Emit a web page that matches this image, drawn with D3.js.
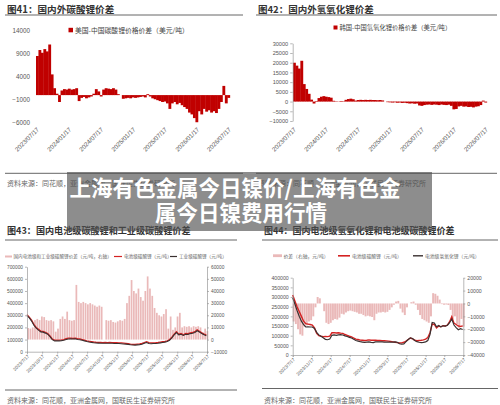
<!DOCTYPE html>
<html><head><meta charset="utf-8">
<script src="https://cdn.jsdelivr.net/npm/d3@7/dist/d3.min.js"></script>
<style>
html,body{margin:0;padding:0;background:#fff;}
svg{display:block;}
</style></head><body>
<svg id="c" width="500" height="405"></svg>
<script>
// ---------------- DATA ----------------
const startDate = "2023-07-17";   // first observation, bi-weekly series
const stepDays = 14;

// Fig 41: US - China lithium carbonate price spread (USD/t)
const usCnCarbonateSpread = [8500,9800,9200,10000,9500,11000,4500,1500,300,-1500,1000,1300,1200,1400,1200,1300,1500,-1300,-600,-400,-700,-500,-300,300,1300,800,-300,1200,1500,1400,1300,1500,1200,200,0,-800,-700,-600,-700,-500,-600,-500,-400,-300,-500,200,-300,-700,-900,-1100,-1300,-1500,-1400,-1800,-3000,-1800,-1500,-2000,-1700,-2200,-2600,-3000,-3800,-4200,-5000,-5900,-3500,-4200,-3000,-3600,-3300,-3800,-3500,-3900,-3000,-1500,2000,-1800,-600];

// Fig 42: Korea - China lithium hydroxide price spread (USD/t)
const krCnHydroxideSpread = [20000,18500,17000,21000,9000,6500,4000,1000,-1000,300,1800,2500,2800,2500,2300,2000,400,200,100,300,200,900,1300,1500,1200,500,800,900,800,900,800,900,800,800,700,800,600,0,-300,-400,-500,-400,-600,-500,-700,-600,-800,-1000,-900,-1100,-1000,-2000,-2200,-1800,-1600,-1500,-1700,-1500,-1600,-1800,-1500,-1700,-1800,-1600,-2200,-4000,-3800,-2500,-2200,-2600,-2500,-2800,-2700,-3000,-2600,-2400,-1800,500,-500];

// Fig 43: battery-grade vs industrial-grade lithium carbonate (CNY/t)
const batteryCarbonate43 = [305000,285000,260000,225000,200000,185000,170000,168000,160000,150000,130000,105000,95000,96000,95000,97000,100000,108000,112000,112000,110000,112000,108000,105000,100000,95000,90000,86000,83000,80000,78000,77000,76000,75000,76000,75000,76000,75000,74000,74000,73000,72000,70000,68000,66000,63000,61000,60000,62000,64000,68000,75000,82000,74000,72000,73000,74000,76000,79000,82000,85000,90000,100000,120000,145000,165000,145000,150000,140000,150000,148000,155000,158000,165000,180000,168000,155000,145000,138000];
const industrialCarbonate43 = [298000,279000,252000,218000,194000,178000,163000,161000,153000,144000,124000,99000,89000,90000,89000,91000,94000,101000,105000,106000,104000,106000,101000,99000,94000,89000,84000,80000,77000,74000,72000,71000,70000,69000,70000,69000,70000,69000,68000,68000,67000,66000,64000,62000,60000,57000,55000,54000,56000,58000,62000,69000,76000,68000,66000,67000,68000,70000,73000,76000,79000,84000,94000,114000,139000,158000,139000,144000,134000,144000,142000,149000,152000,159000,173000,162000,149000,139000,132000];
const gradeSpread43 = [9500,9000,10000,16000,17000,16000,19000,18500,16000,15500,16000,15000,6500,9000,17000,19000,17000,23000,16000,15500,16000,45000,31000,30000,31000,30000,29000,30000,29000,28000,27000,28000,27000,0,16000,15500,16000,14500,14000,15000,16000,15500,17000,30000,36000,49000,40000,38000,42000,35000,32000,40000,52000,42000,36000,26000,22000,20000,19000,21000,25000,9000,19000,8000,10000,19000,22000,10000,11000,10500,11000,10000,11000,10500,11000,10000,6000,9000,7000];

// Fig 44: battery-grade lithium hydroxide vs battery-grade lithium carbonate (CNY/t)
const batteryCarbonate44 = [310000,280000,250000,225000,200000,175000,162000,160000,158000,155000,140000,112000,100000,97000,95000,96000,95000,98000,115000,116000,114000,115000,113000,112000,106000,102000,97000,94000,88000,82000,80000,77000,76000,75000,76000,78000,76000,77000,76000,75000,75000,74000,74000,73000,72000,70000,68000,66000,64000,62000,63000,66000,72000,80000,88000,84000,76000,74000,75000,76000,78000,82000,90000,115000,160000,158000,140000,150000,146000,152000,150000,155000,172000,198000,165000,158000,150000,148000,150000];
const batteryHydroxide44 = [296000,264000,230000,201000,175000,157000,145000,146000,145000,145000,137000,117000,104000,97000,89000,81000,79000,83000,102000,104000,101500,104000,105000,103500,99000,96000,91500,88000,81500,75000,72000,69000,67000,65000,66500,68000,65500,64000,68000,68000,68000,67500,67000,66500,67000,67000,67000,67500,66000,58000,56000,57000,69000,80000,89000,85500,75000,69000,66000,64000,65000,68000,75000,105000,168000,165500,146000,153000,145500,151000,149000,154000,167000,186000,155000,142000,131000,136000,132000];
const hydroxideSpread44 = [-14000,-16000,-20000,-24000,-25000,-18000,-17000,-14000,-13000,-10000,-3000,5000,4000,0,-6000,-15000,-16000,-15000,-13000,-12000,-12500,-11000,-8000,-8500,-7000,-6000,-5500,-6000,-6500,-7000,-8000,-8000,-9000,-10000,-9500,-10000,-10500,-13000,-8000,-7000,-7000,-6500,-7000,-6500,-5000,-3000,-1000,1500,2000,-4000,-7000,-9000,-3000,0,1000,1500,-1000,-5000,-9000,-12000,-13000,-14000,-15000,-10000,8000,7500,6000,3000,-500,-1000,-800,-1200,-5000,-12000,-10000,-16000,-19000,-12000,-18000];

// tick labels
const xTicks41 = ["2023/07/17","2024/01/17","2024/07/17","2025/01/17","2025/07/17","2026/01/17","2026/07/17"];
const xTicks42 = ["2023/07/17","2024/01/17","2024/07/17","2025/01/17","2025/07/17","2026/01/17","2026/07/17"];
const xTicks43 = ["2023/7/17","2023/10/17","2024/1/17","2024/4/17","2024/7/17","2024/10/17","2025/1/17","2025/4/17","2025/7/17","2025/10/17","2026/1/17","2026/4/17","2026/7/17"];
const xTicks44 = ["2023/7/17","2023/11/17","2024/3/17","2024/7/17","2024/11/17","2025/3/17","2025/7/17","2025/11/17","2026/3/17","2026/7/17"];
const yTicks41 = [14000,9000,4000,-1000,-6000];
const yTicks42 = [30000,25000,20000,15000,10000,5000,0,-5000,-10000];
const yTicks43L = [700000,600000,500000,400000,300000,200000,100000,0];
const yTicks43R = [60000,50000,40000,30000,20000,10000,0,-10000];
const yTicks44L = [400000,350000,300000,250000,200000,150000,100000,50000,0];
const yTicks44R = [20000,10000,0,-10000,-20000,-30000,-40000];

// text
const titles = ["图41：国内外碳酸锂价差","图42：国内外氢氧化锂价差","图43：国内电池级碳酸锂和工业级碳酸锂价差","图44：国内电池级氢氧化锂和电池级碳酸锂价差"];
const sourceText = "资料来源：同花顺，亚洲金属网，国联民生证券研究所";
const legend41 = "美国-中国碳酸锂价格价差（美元/吨）";
const legend42 = "韩国-中国氢氧化锂价格价差（美元/吨）";
const legend43 = ["国内电池级和工业级碳酸锂价差（元/吨，右轴）","电池级碳酸锂（元/吨）","工业级碳酸锂（元/吨）"];
const legend44 = ["价差（右轴，元/吨）","电池级碳酸锂（元/吨）","电池级氢氧化锂（元/吨）"];
const overlayLines = ["上海有色金属今日镍价/上海有色金","属今日镍费用行情"];

// ---------------- DRAW ----------------
const CJK = '"Noto Sans CJK SC","Noto Sans",sans-serif';
const NUM = '"Liberation Sans",Arial,sans-serif';
const svg = d3.select("#c");
const pDay = d3.timeParse("%Y-%m-%d");
const pTick = d3.timeParse("%Y/%m/%d");
const t0 = pDay(startDate);
const dates = d3.range(usCnCarbonateSpread.length).map(i => d3.timeDay.offset(t0, i * stepDays));
const tStart = pTick("2023/7/17"), tEnd = pTick("2026/7/17");
const RED = "#c00000", PINK = "#eab9b9", LRED = "#d42222", DARK = "#3a3030";
const plain = d3.format("d");

function frame(x1, x2, title, titleY, ruleY, botY, srcY, fs) {
  svg.append("text").attr("x", x1 + 2).attr("y", titleY).attr("font-family", CJK)
    .attr("font-weight", 700).attr("font-size", fs).attr("fill", "#333").text(title);
  svg.append("line").attr("x1", x1).attr("x2", x2).attr("y1", ruleY).attr("y2", ruleY)
    .attr("stroke", "#666").attr("stroke-width", 1);
  svg.append("line").attr("x1", x1).attr("x2", x2).attr("y1", botY).attr("y2", botY)
    .attr("stroke", "#666").attr("stroke-width", 1);
  svg.append("text").attr("x", x1 + 2).attr("y", srcY).attr("font-family", CJK)
    .attr("font-size", 7).attr("fill", "#666").text(sourceText);
}

function styleAxis(g, fs, showLine) {
  g.attr("font-family", null).attr("font-size", null);
  g.selectAll("path.domain").attr("stroke", showLine ? "#999" : "none").attr("stroke-width", 0.7);
  g.selectAll(".tick line").attr("stroke", showLine ? "#999" : "none").attr("stroke-width", 0.7);
  g.selectAll("text").attr("font-family", NUM).attr("font-size", fs).attr("fill", "#555");
}

function rotXAxis(x, yPos, labels, fs, showLine, dx, dy) {
  const g = svg.append("g").attr("transform", `translate(0,${yPos})`)
    .call(d3.axisBottom(x).tickValues(labels.map(pTick)).tickFormat((d, i) => labels[i]).tickSize(showLine ? 2 : 0));
  styleAxis(g, fs, showLine);
  g.selectAll("text").attr("x", 0).attr("y", 0).attr("dy", 0).attr("text-anchor", "end")
    .attr("transform", `translate(${dx},${dy}) rotate(-45)`);
  return g;
}

// ---- Fig 41 ----
frame(5, 243, titles[0], 13.3, 15, 173.3, 185.5, 9.6);
{
  const x = d3.scaleTime().domain([tStart, tEnd]).range([36, 228]);
  const y = d3.scaleLinear().domain([-6000, 14000]).range([122.7, 30.7]);
  const bw = x(dates[1]) - x(dates[0]) + 0.4;
  svg.append("g").selectAll("rect").data(usCnCarbonateSpread).join("rect")
    .attr("x", (d, i) => x(dates[i])).attr("width", bw)
    .attr("y", d => y(Math.max(0, d))).attr("height", d => Math.abs(y(d) - y(0)))
    .attr("fill", RED);
  const ga = svg.append("g").attr("transform", "translate(31,0)")
    .call(d3.axisLeft(y).tickValues(yTicks41).tickFormat(plain).tickSize(0).tickPadding(1));
  styleAxis(ga, 6.3, false);
  rotXAxis(x, 124, xTicks41, 6.2, false, 3, 6);
  svg.append("rect").attr("x", 68.5).attr("y", 27.8).attr("width", 4.5).attr("height", 4.5).attr("fill", RED);
  svg.append("text").attr("x", 75).attr("y", 32.6).attr("font-family", CJK).attr("font-size", 6.8).attr("fill", "#444").text(legend41);
}

// ---- Fig 42 ----
frame(256, 497, titles[1], 13.3, 15, 173.3, 185.5, 9.5);
{
  const x = d3.scaleTime().domain([tStart, tEnd]).range([293, 485]);
  const y = d3.scaleLinear().domain([-10000, 30000]).range([121, 43.3]);
  const bw = x(dates[1]) - x(dates[0]) + 0.4;
  svg.append("g").selectAll("rect").data(krCnHydroxideSpread).join("rect")
    .attr("x", (d, i) => x(dates[i])).attr("width", bw)
    .attr("y", d => y(Math.max(0, d))).attr("height", d => Math.abs(y(d) - y(0)))
    .attr("fill", RED);
  const ga = svg.append("g").attr("transform", "translate(292.7,0)")
    .call(d3.axisLeft(y).tickValues(yTicks42).tickFormat(plain).tickSize(2.5).tickPadding(2).tickSizeOuter(0));
  styleAxis(ga, 5.6, true);
  rotXAxis(x, 124, xTicks42, 6.2, false, 3, 6);
  svg.append("rect").attr("x", 333.5).attr("y", 25.5).attr("width", 4).attr("height", 4).attr("fill", RED);
  svg.append("text").attr("x", 339.5).attr("y", 29.8).attr("font-family", CJK).attr("font-size", 6.3).attr("fill", "#444").text(legend42);
}

// ---- Fig 43 ----
frame(5, 237, titles[2], 233.8, 240, 390, 403, 9.1);
{
  const x = d3.scaleTime().domain([tStart, tEnd]).range([27, 207]);
  const yL = d3.scaleLinear().domain([0, 700000]).range([351.7, 266.7]);
  const yR = d3.scaleLinear().domain([-10000, 60000]).range([351.7, 266.7]);
  const step = x(dates[1]) - x(dates[0]);
  svg.append("g").selectAll("rect").data(gradeSpread43).join("rect")
    .attr("x", (d, i) => x(dates[i]) + step * 0.1).attr("width", step * 0.75)
    .attr("y", d => yR(Math.max(0, d))).attr("height", d => Math.abs(yR(d) - yR(0)))
    .attr("fill", PINK);
  const line = arr => d3.line().x((d, i) => x(dates[i])).y(d => yL(d))(arr);
  svg.append("path").attr("d", line(batteryCarbonate43)).attr("fill", "none").attr("stroke", LRED).attr("stroke-width", 1.3);
  svg.append("path").attr("d", line(industrialCarbonate43)).attr("fill", "none").attr("stroke", DARK).attr("stroke-width", 1.1);
  const gl = svg.append("g").attr("transform", "translate(27,0)")
    .call(d3.axisLeft(yL).tickValues(yTicks43L).tickFormat(plain).tickSize(2).tickPadding(2).tickSizeOuter(0));
  styleAxis(gl, 4.8, true);
  const gr = svg.append("g").attr("transform", "translate(207,0)")
    .call(d3.axisRight(yR).tickValues(yTicks43R).tickFormat(plain).tickSize(2).tickPadding(2).tickSizeOuter(0));
  styleAxis(gr, 4.8, true);
  rotXAxis(x, 351.7, xTicks43, 4.6, true, 2, 5);
  const ly = 258;
  svg.append("line").attr("x1", 5).attr("x2", 12).attr("y1", ly - 1.5).attr("y2", ly - 1.5).attr("stroke", PINK).attr("stroke-width", 2);
  svg.append("text").attr("x", 13.5).attr("y", ly).attr("font-family", CJK).attr("font-size", 4.6).attr("fill", "#666").text(legend43[0]);
  svg.append("line").attr("x1", 114).attr("x2", 122).attr("y1", ly - 1.5).attr("y2", ly - 1.5).attr("stroke", LRED).attr("stroke-width", 1.2);
  svg.append("text").attr("x", 124).attr("y", ly).attr("font-family", CJK).attr("font-size", 4.6).attr("fill", "#666").text(legend43[1]);
  svg.append("line").attr("x1", 170).attr("x2", 177).attr("y1", ly - 1.5).attr("y2", ly - 1.5).attr("stroke", DARK).attr("stroke-width", 1.2);
  svg.append("text").attr("x", 179).attr("y", ly).attr("font-family", CJK).attr("font-size", 4.6).attr("fill", "#666").text(legend43[2]);
}

// ---- Fig 44 ----
frame(262, 498, titles[3], 233.8, 240, 388.5, 403, 9);
{
  const x = d3.scaleTime().domain([tStart, tEnd]).range([292.7, 463.3]);
  const yL = d3.scaleLinear().domain([0, 400000]).range([355, 277.7]);
  const yR = d3.scaleLinear().domain([-40000, 20000]).range([355, 277.7]);
  const step = x(dates[1]) - x(dates[0]);
  svg.append("g").selectAll("rect").data(hydroxideSpread44).join("rect")
    .attr("x", (d, i) => x(dates[i])).attr("width", step * 0.9)
    .attr("y", d => yR(Math.max(0, d))).attr("height", d => Math.abs(yR(d) - yR(0)))
    .attr("fill", PINK);
  const line = arr => d3.line().x((d, i) => x(dates[i])).y(d => yL(d))(arr);
  svg.append("path").attr("d", line(batteryCarbonate44)).attr("fill", "none").attr("stroke", LRED).attr("stroke-width", 1.4);
  svg.append("path").attr("d", line(batteryHydroxide44)).attr("fill", "none").attr("stroke", DARK).attr("stroke-width", 1.2);
  const gl = svg.append("g").attr("transform", "translate(292.7,0)")
    .call(d3.axisLeft(yL).tickValues(yTicks44L).tickFormat(plain).tickSize(2).tickPadding(2).tickSizeOuter(0));
  styleAxis(gl, 5.2, true);
  const gr = svg.append("g").attr("transform", "translate(463.3,0)")
    .call(d3.axisRight(yR).tickValues(yTicks44R).tickFormat(plain).tickSize(2).tickPadding(2).tickSizeOuter(0));
  styleAxis(gr, 5.2, true);
  rotXAxis(x, 355, xTicks44, 4.6, true, 2, 5);
  const ly = 257.8;
  svg.append("rect").attr("x", 273).attr("y", ly - 3.5).attr("width", 9).attr("height", 2.8).attr("fill", PINK);
  svg.append("text").attr("x", 283.5).attr("y", ly).attr("font-family", CJK).attr("font-size", 4.8).attr("fill", "#666").text(legend44[0]);
  svg.append("line").attr("x1", 338).attr("x2", 350).attr("y1", ly - 2).attr("y2", ly - 2).attr("stroke", LRED).attr("stroke-width", 1.6);
  svg.append("text").attr("x", 352).attr("y", ly).attr("font-family", CJK).attr("font-size", 4.8).attr("fill", "#666").text(legend44[1]);
  svg.append("line").attr("x1", 413).attr("x2", 423).attr("y1", ly - 2).attr("y2", ly - 2).attr("stroke", DARK).attr("stroke-width", 1.4);
  svg.append("text").attr("x", 425).attr("y", ly).attr("font-family", CJK).attr("font-size", 4.8).attr("fill", "#666").text(legend44[2]);
}

// ---- overlay banner ----
svg.append("rect").attr("x", 67).attr("y", 172).attr("width", 365).attr("height", 59)
  .attr("fill", "rgba(80,80,80,0.65)");
svg.append("text").attr("x", 235).attr("y", 196).attr("text-anchor", "middle").attr("font-family", CJK)
  .attr("font-weight", 700).attr("font-size", 21.5).attr("fill", "#fff").text(overlayLines[0]);
svg.append("text").attr("x", 241).attr("y", 221).attr("text-anchor", "middle").attr("font-family", CJK)
  .attr("font-weight", 700).attr("font-size", 21.5).attr("fill", "#fff").text(overlayLines[1]);
</script>
</body></html>
